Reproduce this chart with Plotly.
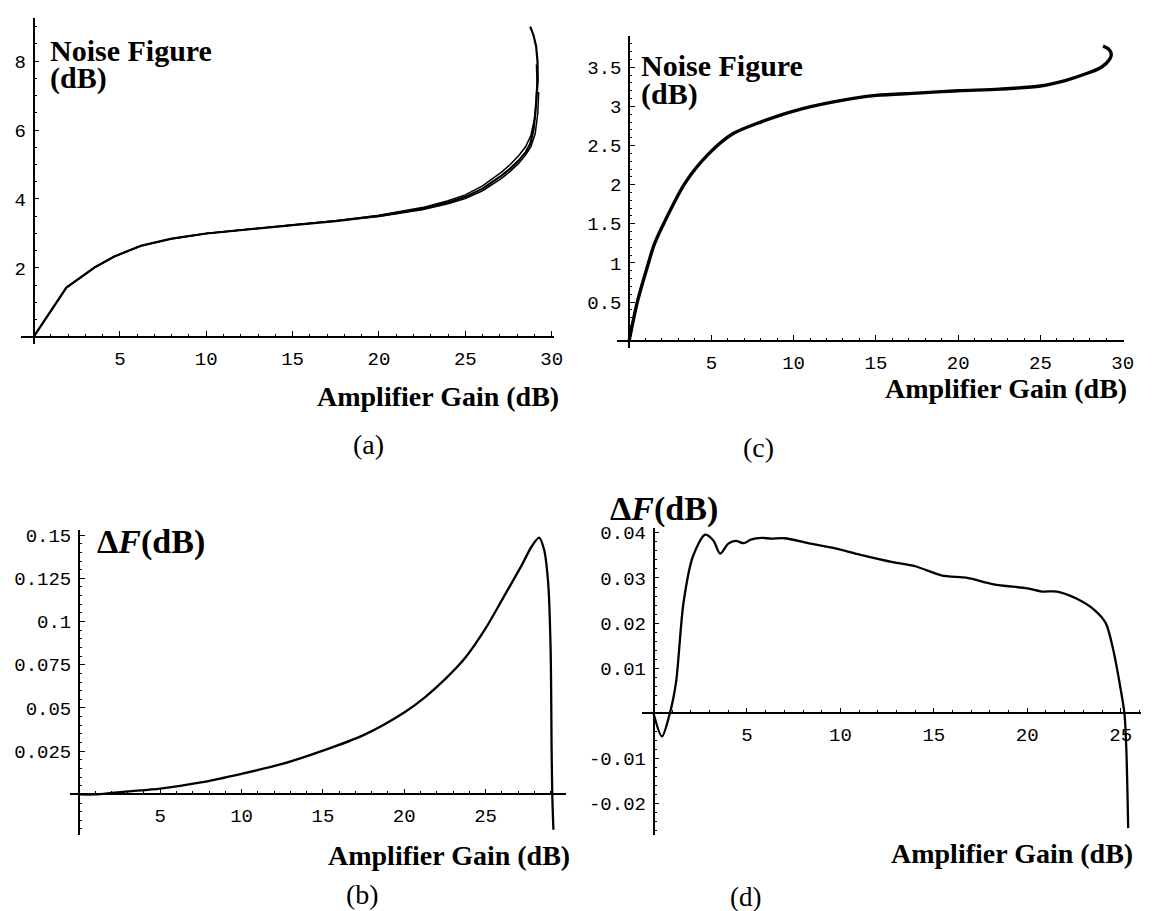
import plotly.graph_objects as go

# ---------------- data ----------------
# (a) noise figure vs amplifier gain -- three nearly coincident curves
a_gain_1 = [0, 1.9, 3.55, 4.67, 6.2, 8, 10, 12.5, 15, 17.5, 20, 22.5, 24, 25, 26, 27.1, 27.6, 28.1, 28.5, 28.76, 28.95, 29.06, 29.15, 29.2, 29.18, 29.1, 28.95, 28.76]
a_nf_1 = [0, 1.43, 2.02, 2.33, 2.64, 2.85, 3.0, 3.13, 3.24, 3.36, 3.51, 3.72, 3.9, 4.06, 4.3, 4.68, 4.88, 5.12, 5.36, 5.6, 6.0, 6.5, 7.0, 7.47, 8.0, 8.43, 8.75, 9.0]
a_gain_2 = [0, 1.9, 3.55, 4.67, 6.2, 8, 10, 12.5, 15, 17.5, 20, 22.5, 24, 25, 26, 27.1, 27.6, 28.1, 28.5, 28.8, 29.0, 29.1, 29.15, 29.12]
a_nf_2 = [0, 1.43, 2.02, 2.33, 2.64, 2.85, 3.0, 3.13, 3.25, 3.37, 3.53, 3.75, 3.95, 4.12, 4.38, 4.78, 5.0, 5.26, 5.52, 5.85, 6.3, 6.8, 7.4, 7.9]
a_gain_3 = [0, 1.9, 3.55, 4.67, 6.2, 8, 10, 12.5, 15, 17.5, 20, 22.5, 24, 25, 26, 27.1, 27.6, 28.1, 28.5, 28.8, 29.05, 29.2, 29.25]
a_nf_3 = [0, 1.43, 2.02, 2.33, 2.64, 2.85, 3.0, 3.12, 3.23, 3.35, 3.49, 3.69, 3.86, 4.01, 4.24, 4.6, 4.8, 5.04, 5.28, 5.52, 5.9, 6.5, 7.1]

# (c) noise figure vs amplifier gain
c_gain = [0, 0.5, 1.18, 1.52, 2.1, 3.4, 4.82, 6.3, 8, 10, 12.5, 15, 17.5, 20, 22.5, 25, 26.5, 27.8, 28.7, 29.2, 29.3, 29.15, 28.8]
c_nf = [0, 0.5, 1.0, 1.23, 1.5, 2.02, 2.39, 2.65, 2.8, 2.94, 3.06, 3.14, 3.17, 3.2, 3.22, 3.26, 3.33, 3.42, 3.5, 3.6, 3.67, 3.73, 3.77]

# (b) Delta F vs amplifier gain
b_gain = [0, 1, 2, 3, 5, 7.5, 10, 12.5, 15, 17.5, 20, 21.25, 22.5, 23.75, 25, 26.1, 27.2, 27.85, 28.29, 28.6, 28.85, 29.0, 29.06, 29.1, 29.17]
b_df = [0, 0, 0.0008, 0.0017, 0.0033, 0.0069, 0.0119, 0.0176, 0.0253, 0.0343, 0.0474, 0.056, 0.0665, 0.079, 0.096, 0.114, 0.1322, 0.1437, 0.1486, 0.1415, 0.122, 0.0835, 0.0263, 0, -0.0205]

# (d) Delta F vs amplifier gain
d_gain = [0, 0.45, 0.87, 1.2, 1.6, 2.1, 2.76, 3.2, 3.56, 4.0, 4.4, 4.84, 5.2, 5.8, 6.3, 7.0, 8.4, 10.0, 11.2, 12.8, 14.0, 15.4, 16.8, 18.2, 20.0, 20.8, 21.6, 22.6, 23.6, 24.2, 24.6, 25.0, 25.2, 25.3, 25.4]
d_df = [0, -0.0051, 0, 0.0068, 0.0244, 0.0347, 0.0396, 0.0383, 0.0354, 0.0376, 0.0382, 0.0377, 0.0385, 0.0389, 0.0387, 0.0388, 0.0376, 0.0363, 0.035, 0.0335, 0.0326, 0.0306, 0.030, 0.0286, 0.0277, 0.027, 0.027, 0.0255, 0.0229, 0.02, 0.0141, 0.0053, 0, -0.0078, -0.0254]

# tick values / labels
a_xticks = [5, 10, 15, 20, 25, 30]
a_yticks = [2, 4, 6, 8]
c_xticks = [5, 10, 15, 20, 25, 30]
c_yticks = [0.5, 1, 1.5, 2, 2.5, 3, 3.5]
c_ylabels = ["0.5", "1", "1.5", "2", "2.5", "3", "3.5"]
b_xticks = [5, 10, 15, 20, 25]
b_yticks = [0.025, 0.05, 0.075, 0.1, 0.125, 0.15]
b_ylabels = ["0.025", "0.05", "0.075", "0.1", "0.125", "0.15"]
d_xticks = [5, 10, 15, 20, 25]
d_yticks = [-0.02, -0.01, 0.01, 0.02, 0.03, 0.04]
d_ylabels = ["-0.02", "-0.01", "0.01", "0.02", "0.03", "0.04"]

# ---------------- layout geometry (pixels) ----------------
W, H = 1152, 911
geom = {
    # x0/y0: pixel of data origin, sx/sy: px per unit, xl/xr/yt/yb: axis extents
    "a": dict(x0=25.8, sx=17.42, xl=13.2, xr=550.5, y0=325.7, sy=34.67, yt=5, yb=333),
    "c": dict(x0=626.5, sx=16.6, xl=614.7, xr=1125.5, y0=330, sy=78.7, yt=23.3, yb=336.7),
    "b": dict(x0=71.5, sx=16.41, xl=62.5, xr=563, y0=785.7, sy=1738, yt=520, yb=826.7),
    "d": dict(x0=651.2, sx=18.85, xl=639.3, xr=1143.3, y0=704.3, sy=4540, yt=518.3, yb=826.7),
}

TICKFONT = dict(family="Liberation Mono", size=19, color="black")
fig = go.Figure()

panel_ticks = {
    "a": (a_xticks, [str(v) for v in a_xticks], 1, a_yticks, [str(v) for v in a_yticks], 0.5),
    "c": (c_xticks, [str(v) for v in c_xticks], 1, c_yticks, c_ylabels, 0.1),
    "b": (b_xticks, [str(v) for v in b_xticks], 1, b_yticks, b_ylabels, 0.005),
    "d": (d_xticks, [str(v) for v in d_xticks], 1, d_yticks, d_ylabels, 0.002),
}

layout_axes = {}
for i, key in enumerate(["a", "c", "b", "d"]):
    g = geom[key]
    n = "" if i == 0 else str(i + 1)
    xr = [(g["xl"] - g["x0"]) / g["sx"], (g["xr"] - g["x0"]) / g["sx"]]
    yr = [(g["y0"] - g["yb"]) / g["sy"], (g["y0"] - g["yt"]) / g["sy"]]
    xt, xtl, xminor, yt, ytl, yminor = panel_ticks[key]
    layout_axes["xaxis" + n] = dict(
        domain=[g["xl"] / W, g["xr"] / W], range=xr, anchor="free",
        position=1 - g["y0"] / H, showline=True, linecolor="black", linewidth=1.6,
        showgrid=False, zeroline=False, tickmode="array", tickvals=xt, ticktext=xtl,
        ticks="inside", ticklen=5, tickwidth=1.2, tickcolor="black",
        tickfont=TICKFONT, ticklabelstandoff=4,
        minor=dict(ticks="inside", ticklen=2.5, tickwidth=1, tickcolor="black",
                   dtick=xminor, tick0=0, showgrid=False),
    )
    layout_axes["yaxis" + n] = dict(
        domain=[1 - g["yb"] / H, 1 - g["yt"] / H], range=yr, anchor="free",
        position=g["x0"] / W, showline=True, linecolor="black", linewidth=1.6,
        showgrid=False, zeroline=False, tickmode="array", tickvals=yt, ticktext=ytl,
        ticks="inside", ticklen=5, tickwidth=1.2, tickcolor="black",
        tickfont=TICKFONT, ticklabelstandoff=3,
        minor=dict(ticks="inside", ticklen=2.5, tickwidth=1, tickcolor="black",
                   dtick=yminor, tick0=0, showgrid=False),
    )

def add(x, y, axn, width=2.2, shape="linear"):
    fig.add_trace(go.Scatter(
        x=x, y=y, mode="lines", xaxis="x" + axn, yaxis="y" + axn,
        line=dict(color="black", width=width, shape=shape, smoothing=0.8),
        showlegend=False, hoverinfo="skip"))

add(a_gain_1, a_nf_1, "", 2.2, "linear")
add(a_gain_2, a_nf_2, "", 1.5, "linear")
add(a_gain_3, a_nf_3, "", 1.5, "linear")
add(c_gain, c_nf, "2", 3.4, "spline")
add(b_gain, b_df, "3", 2.3, "spline")
add(d_gain, d_df, "4", 2.3, "spline")

def ann(text, px, py, size, xanchor="left", family="Liberation Serif"):
    return dict(text=text, x=px / W, y=1 - py / H, xref="paper", yref="paper",
                xanchor=xanchor, yanchor="middle", showarrow=False,
                font=dict(family=family, size=size, color="black"))

annotations = [
    ann("<b>Noise Figure</b>", 40, 38, 30),
    ann("<b>(dB)</b>", 40, 65, 30),
    ann("<b>Noise Figure</b>", 637, 53, 30),
    ann("<b>(dB)</b>", 637, 81, 30),
    ann("<b>Δ<i>F</i>(dB)</b>", 88, 532, 34),
    ann("<b>Δ<i>F</i>(dB)</b>", 605, 499, 34),
    ann("<b>Amplifier Gain (dB)</b>", 558, 386, 28, "right"),
    ann("<b>Amplifier Gain (dB)</b>", 1131, 378, 28, "right"),
    ann("<b>Amplifier Gain (dB)</b>", 569, 847, 28, "right"),
    ann("<b>Amplifier Gain (dB)</b>", 1137, 845, 28, "right"),
    ann("(a)", 364, 434, 28, "center"),
    ann("(c)", 757, 437, 28, "center"),
    ann("(b)", 358, 886, 28, "center"),
    ann("(d)", 744, 889, 27, "center"),
]

fig.update_layout(
    width=W, height=H, margin=dict(l=0, r=0, t=0, b=0),
    paper_bgcolor="white", plot_bgcolor="white", showlegend=False,
    annotations=annotations, **layout_axes,
)

fig.write_html("out.html")
